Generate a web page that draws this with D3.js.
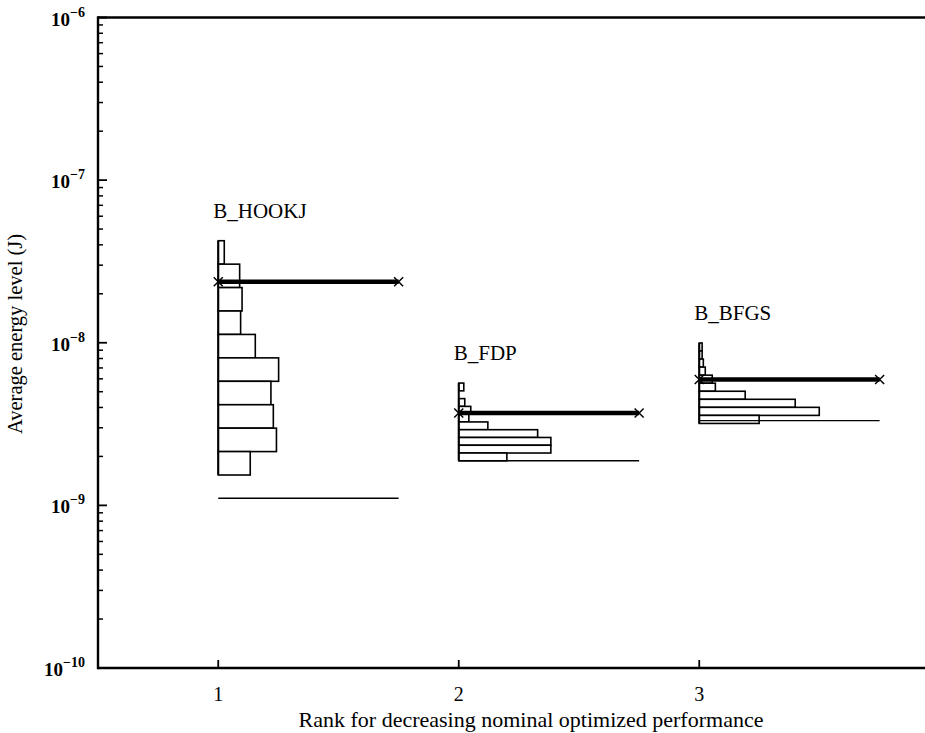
<!DOCTYPE html>
<html>
<head>
<meta charset="utf-8">
<script src="https://cdn.jsdelivr.net/npm/d3@7"></script>
<style>
  html, body { margin: 0; padding: 0; background: #fff; }
  svg { display: block; }
  text { font-family: "Liberation Serif", "DejaVu Serif", serif; fill: #000; }
</style>
</head>
<body>
<svg id="chart" width="925" height="733"></svg>
<script>
// ---- data ----
const methods = ["B_HOOKJ", "B_FDP", "B_BFGS"];
const ranks = [1, 2, 3];
const xTickValues = [1, 2, 3];
const yTickExponents = [-10, -9, -8, -7, -6];
// histogram bin range (upper and lower edge, J), 10 log-spaced bins each
const binUpper = [4.24e-8, 5.65e-9, 9.97e-9];
const binLower = [1.537e-9, 1.88e-9, 3.19e-9];
// relative frequencies, top bin to bottom bin
const freqHOOKJ = [2.5, 8.9, 9.9, 9.3, 15.4, 25.1, 21.9, 22.9, 24.2, 13.3];
const freqFDP   = [2.1, 0, 2.5, 5.0, 4.2, 12.1, 32.8, 38.3, 38.3, 20.0];
const freqBFGS  = [1.2, 1.2, 1.7, 2.5, 5.4, 6.7, 19.1, 39.9, 49.9, 24.9];
// nominal optimized energy (thick line) and minimum energy (thin line)
const nominalEnergy = [2.37e-8, 3.70e-9, 5.94e-9];
const minimumEnergy = [1.105e-9, 1.88e-9, 3.32e-9];
const lineSpan = 0.75;

const freqs = [freqHOOKJ, freqFDP, freqBFGS];

// ---- scales ----
const svg = d3.select("#chart");
const x = d3.scaleLinear().domain([0.5, 4]).range([98, 939.75]);
const y = d3.scaleLog().domain([1e-10, 1e-6]).range([668, 17.5]);
const histW = d3.scaleLinear().domain([0, 100]).range([0, 1]); // freq -> rank units

const pLeft = x.range()[0], pRight = 925, pTop = y.range()[1], pBottom = y.range()[0];

// ---- histograms ----
ranks.forEach((r, i) => {
  const n = freqs[i].length;
  const lu = Math.log10(binUpper[i]), ll = Math.log10(binLower[i]);
  const bins = freqs[i].map((f, k) => ({
    f,
    hi: Math.pow(10, lu - k * (lu - ll) / n),
    lo: Math.pow(10, lu - (k + 1) * (lu - ll) / n)
  })).filter(d => d.f > 0);
  const g = svg.append("g");
  g.selectAll("rect").data(bins).join("rect")
    .attr("x", x(r))
    .attr("y", d => y(d.hi))
    .attr("width", d => x(r + histW(d.f)) - x(r))
    .attr("height", d => y(d.lo) - y(d.hi))
    .attr("fill", "#fff")
    .attr("stroke", "#000")
    .attr("stroke-width", 1.6);
  // left spine of histogram
  g.append("line")
    .attr("x1", x(r)).attr("x2", x(r))
    .attr("y1", y(binUpper[i])).attr("y2", y(binLower[i]))
    .attr("stroke", "#000").attr("stroke-width", 2);
  // minimum line
  g.append("line")
    .attr("x1", x(r)).attr("x2", x(r + lineSpan))
    .attr("y1", y(minimumEnergy[i])).attr("y2", y(minimumEnergy[i]))
    .attr("stroke", "#000").attr("stroke-width", 1.4);
  // nominal thick line
  g.append("line")
    .attr("x1", x(r)).attr("x2", x(r + lineSpan))
    .attr("y1", y(nominalEnergy[i])).attr("y2", y(nominalEnergy[i]))
    .attr("stroke", "#000").attr("stroke-width", 4.5);
  [r, r + lineSpan].forEach(xv => {
    const cx = x(xv), cy = y(nominalEnergy[i]), s = 4.5;
    g.append("path")
      .attr("d", `M${cx - s},${cy - s}L${cx + s},${cy + s}M${cx - s},${cy + s}L${cx + s},${cy - s}`)
      .attr("stroke", "#000").attr("stroke-width", 1.5);
  });
  // label
  svg.append("text")
    .attr("x", x(r) - 5)
    .attr("y", y(binUpper[i]) - 23)
    .attr("font-size", 21)
    .text(methods[i]);
});

// ---- frame ----
svg.append("line").attr("x1", pLeft).attr("x2", pRight).attr("y1", pTop).attr("y2", pTop)
  .attr("stroke", "#000").attr("stroke-width", 2.4);
svg.append("line").attr("x1", pLeft).attr("x2", pRight).attr("y1", pBottom).attr("y2", pBottom)
  .attr("stroke", "#000").attr("stroke-width", 2.4);
svg.append("line").attr("x1", pLeft).attr("x2", pLeft).attr("y1", pTop - 1.2).attr("y2", pBottom + 1.2)
  .attr("stroke", "#000").attr("stroke-width", 2.4);

// ---- y ticks ----
const minorTicks = [];
yTickExponents.slice(0, -1).forEach(e => {
  for (let m = 2; m <= 9; m++) minorTicks.push(m * Math.pow(10, e));
});
svg.append("g").selectAll("line").data(minorTicks).join("line")
  .attr("x1", pLeft).attr("x2", pLeft + 5)
  .attr("y1", d => y(d)).attr("y2", d => y(d))
  .attr("stroke", "#000").attr("stroke-width", 1.5);
svg.append("g").selectAll("line").data(yTickExponents).join("line")
  .attr("x1", pLeft).attr("x2", pLeft + 9)
  .attr("y1", d => y(Math.pow(10, d))).attr("y2", d => y(Math.pow(10, d)))
  .attr("stroke", "#000").attr("stroke-width", 1.8);
const yl = svg.append("g").selectAll("text").data(yTickExponents).join("text")
  .attr("x", 85)
  .attr("y", d => y(Math.pow(10, d)) + 8)
  .attr("text-anchor", "end")
  .attr("font-weight", "bold")
  .attr("font-size", 19);
yl.append("tspan").text("10");
yl.append("tspan").attr("dy", -9).attr("font-size", 14).text(d => "\u2212" + Math.abs(d));

// ---- x ticks ----
svg.append("g").selectAll("line").data(xTickValues).join("line")
  .attr("x1", d => x(d)).attr("x2", d => x(d))
  .attr("y1", pBottom).attr("y2", pBottom - 8)
  .attr("stroke", "#000").attr("stroke-width", 1.8);
svg.append("g").selectAll("text").data(xTickValues).join("text")
  .attr("x", d => x(d))
  .attr("y", 701)
  .attr("text-anchor", "middle")
  .attr("font-size", 20)
  .text(d => d);

// ---- axis titles ----
svg.append("text")
  .attr("x", 531).attr("y", 727)
  .attr("text-anchor", "middle")
  .attr("font-size", 22)
  .text("Rank for decreasing nominal optimized performance");
svg.append("text")
  .attr("transform", "translate(22,334) rotate(-90)")
  .attr("text-anchor", "middle")
  .attr("font-size", 20.5)
  .text("Average energy level (J)");
</script>
</body>
</html>
